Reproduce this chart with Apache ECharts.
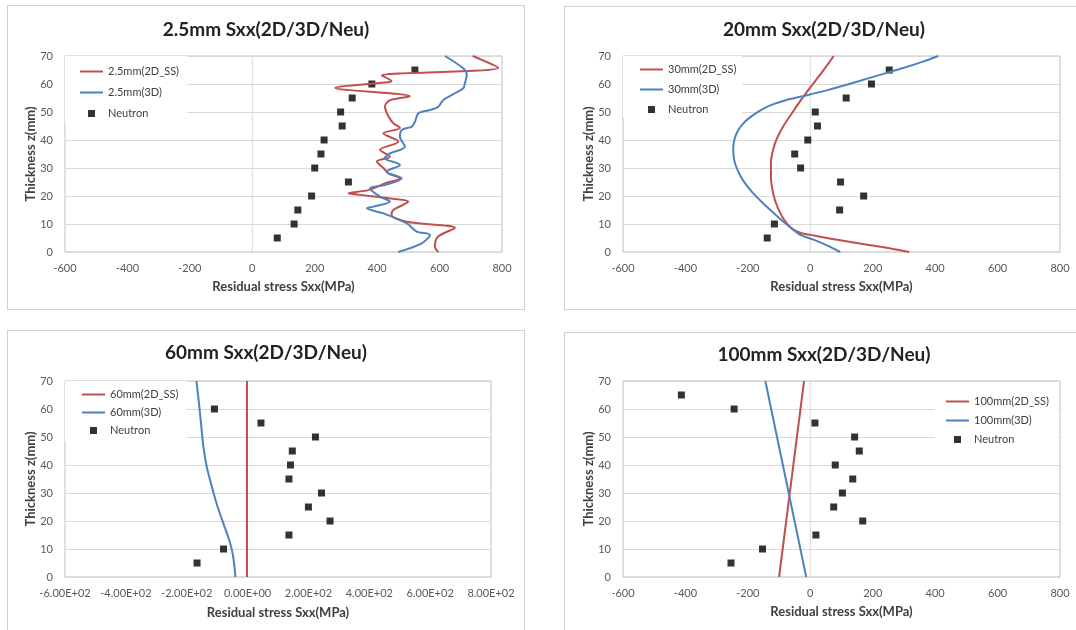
<!DOCTYPE html>
<html>
<head>
<meta charset="utf-8">
<script src="https://cdn.jsdelivr.net/npm/echarts@6/dist/echarts.min.js"></script>
<style>
body { margin: 0; width: 1076px; height: 630px; background: #fff; overflow: hidden; position: relative; }
.panel { position: absolute; box-sizing: border-box; border: 1px solid #d0d0d0; background: #fff; }
</style>
</head>
<body>
<div class="panel" id="p1" style="left:7px;top:5px;width:518px;height:305px"></div>
<div class="panel" id="p2" style="left:564px;top:6px;width:520px;height:304px"></div>
<div class="panel" id="p3" style="left:7px;top:330px;width:518px;height:310px"></div>
<div class="panel" id="p4" style="left:564px;top:332px;width:520px;height:310px"></div>
<script>
// axis ticks
var xTicks = [-600, -400, -200, 0, 200, 400, 600, 800];
var zTicks = [0, 10, 20, 30, 40, 50, 60, 70];

// neutron measurement depths
var depthZ = [65, 60, 55, 50, 45, 40, 35, 30, 25, 20, 15, 10, 5];
var depthZ60 = [60, 55, 50, 45, 40, 35, 30, 25, 20, 15, 10, 5];

// 2.5mm
var neu25 = [521, 383, 320, 283, 288, 230, 220, 200, 308, 190, 146, 134, 80];
var ss25 = [[706,70],[788,65.8],[415,63],[446,61],[425,60.5],[266,58.6],[505,55.6],[441,54.2],[425,52],
  [436,48.5],[452,46],[473,44.3],[420,42.4],[468,39.4],[409,36.5],[441,34],[399,32.3],[420,30],[436,28.1],
  [473,26.3],[425,24.5],[372,22.1],[308,21],[345,20.4],[436,19.2],[500,18],[452,15],[446,13.2],[495,10.8],
  [649,8.6],[596,5.6],[585,2],[596,0]];
var d3_25 = [[617,70],[676,65.6],[687,63.2],[681,60.2],[676,58.5],[649,56.7],[612,54.3],[596,51.9],[569,50.7],
  [532,49.5],[521,46.5],[511,44.8],[479,43.6],[473,41.2],[489,37.6],[441,35.2],[425,33.5],[473,31.1],[430,28.7],
  [479,26.3],[425,23.9],[377,22.7],[409,19.8],[441,18],[388,16.2],[367,15.6],[420,13.8],[495,10.2],[527,7.3],
  [569,6.1],[543,3.1],[468,0]];

// 20mm
var neu20 = [253, 196, 115, 16, 23, -8, -50, -31, 97, 171, 94, -115, -138];
var ss20 = [[75,70],[56,67],[36,64],[12,60.5],[-12,57],[-38,53],[-62,49],[-86,45],[-105,41],[-118,37],
  [-126,32],[-126,27],[-119,21],[-105,16],[-84,11.5],[-58,8.3],[-30,6.8],[15,5.8],[110,3.9],[230,1.8],[317,0]];
var d3_20 = [[410,70],[361,68],[295,65.6],[240,63.8],[185,62],[119,59.8],[58,57.9],[-10,56],[-76,54.3],
  [-118,52.8],[-150,51.2],[-183,48.9],[-208,46.7],[-228,44],[-241,41],[-247,37],[-244,33],[-234,29.5],
  [-215,25.5],[-187,21.5],[-152,17.5],[-118,14],[-86,10.8],[-55,8],[-30,6],[10,4.4],[55,2.3],[96,0]];

// 60mm
var neu60 = [-109, 44, 223, 147, 141, 136, 243, 200, 271, 136, -79, -166];
var ss60 = [[-2,70],[-2,0]];
var d3_60 = [[-168,70],[-162,64.3],[-154,56],[-145,46.4],[-134,39.3],[-117,32.1],[-100,25.6],[-79,19],
  [-60,13.1],[-49,8.3],[-43,3.6],[-40,0]];

// 100mm
var neu100 = [-413, -244, 15, 142, 157, 80, 136, 103, 75, 168, 18, -153, -254];
var ss100 = [[-20,70],[-100,0]];
var d3_100 = [[-144,70],[-13,0]];

var RED = '#c0504d';
var BLUE = '#4f81bd';
var LINE_ICON = 'path://M0,0H23V2H0Z';
var SQUARE_ICON = 'path://M0,0H1V1H0Z';

function sci(v) {
  var s = v.toExponential(2).toUpperCase();
  return s.replace(/E([+-])(\d+)$/, function (m, sg, d) {
    return 'E' + sg + (d.length < 2 ? '0' + d : d);
  });
}

function pairs(xs, zs) {
  return xs.map(function (x, i) { return [x, zs[i]]; });
}

function makePanel(id, p) {
  var chart = echarts.init(document.getElementById(id));
  chart.setOption({
    animation: false,
    textStyle: { fontFamily: 'Lato' },
    title: {
      text: p.title,
      left: 'center',
      top: p.titleTop,
      textStyle: { fontSize: 19, fontWeight: 'bold', color: '#222', fontFamily: 'Lato' }
    },
    grid: {
      left: p.grid[0], top: p.grid[1], width: p.grid[2], height: p.grid[3],
      show: true, borderColor: '#bfbfbf', borderWidth: 1
    },
    legend: {
      orient: 'vertical',
      left: p.legend[0],
      top: p.legend[1],
      padding: p.legend[2],
      itemGap: p.legend[3],
      itemWidth: 23,
      itemHeight: 7,
      symbolKeepAspect: true,
      backgroundColor: '#fff',
      selectedMode: false,
      textStyle: { fontSize: 11, color: '#404040' },
      data: [
        { name: p.names[0], icon: LINE_ICON },
        { name: p.names[1], icon: LINE_ICON },
        { name: 'Neutron', icon: SQUARE_ICON }
      ]
    },
    xAxis: {
      type: 'value',
      min: xTicks[0],
      max: xTicks[xTicks.length - 1],
      interval: xTicks[1] - xTicks[0],
      name: 'Residual stress Sxx(MPa)',
      nameLocation: 'middle',
      nameGap: p.xGap,
      nameMoveOverlap: false,
      nameTextStyle: { fontWeight: 'bold', fontSize: 13, color: '#404040' },
      axisLine: { show: false },
      axisTick: { show: false },
      splitLine: { show: false },
      axisLabel: { fontSize: 11, color: '#595959', margin: 11, formatter: p.fmt }
    },
    yAxis: {
      type: 'value',
      min: zTicks[0],
      max: zTicks[zTicks.length - 1],
      interval: zTicks[1] - zTicks[0],
      name: 'Thickness z(mm)',
      nameLocation: 'middle',
      nameGap: 28,
      nameMoveOverlap: false,
      nameTextStyle: { fontWeight: 'bold', fontSize: 13, color: '#404040' },
      axisLine: { show: false },
      axisTick: { show: false },
      splitLine: { show: true, lineStyle: { color: '#d9d9d9', width: 1 } },
      axisLabel: { fontSize: 11, color: '#595959', margin: 12 }
    },
    series: [
      {
        name: 'axis0', type: 'line', silent: true, symbol: 'none', z: 1,
        data: [[0, zTicks[0]], [0, zTicks[zTicks.length - 1]]],
        lineStyle: { color: '#d9d9d9', width: 1 }
      },
      {
        name: p.names[0], type: 'line', data: p.red, symbol: 'none', smooth: p.smooth,
        lineStyle: { color: RED, width: 2 }, itemStyle: { color: RED }
      },
      {
        name: p.names[1], type: 'line', data: p.blue, symbol: 'none', smooth: p.smooth,
        lineStyle: { color: BLUE, width: 2 }, itemStyle: { color: BLUE }
      },
      {
        name: 'Neutron', type: 'scatter', data: p.neu, symbol: 'rect', symbolSize: 7,
        itemStyle: { color: '#000' }
      }
    ]
  });
}

makePanel('p1', {
  title: '2.5mm Sxx(2D/3D/Neu)', titleTop: 9,
  grid: [57, 50, 437, 196],
  legend: [57, 50, [10, 8, 6, 15], 10],
  names: ['2.5mm(2D_SS)', '2.5mm(3D)'],
  red: ss25, blue: d3_25, neu: pairs(neu25, depthZ),
  smooth: 0.3, xGap: 28
});
makePanel('p2', {
  title: '20mm Sxx(2D/3D/Neu)', titleTop: 8,
  grid: [58, 49, 437, 196],
  legend: [58, 49, [8, 6, 3, 17], 9],
  names: ['30mm(2D_SS)', '30mm(3D)'],
  red: ss20, blue: d3_20, neu: pairs(neu20, depthZ),
  smooth: 0.3, xGap: 28
});
makePanel('p3', {
  title: '60mm Sxx(2D/3D/Neu)', titleTop: 7,
  grid: [57, 50, 426, 196],
  legend: [57, 50, [8, 8, 6, 17], 7],
  names: ['60mm(2D_SS)', '60mm(3D)'],
  red: ss60, blue: d3_60, neu: pairs(neu60, depthZ60),
  smooth: 0.4, xGap: 29, fmt: sci
});
makePanel('p4', {
  title: '100mm Sxx(2D/3D/Neu)', titleTop: 7,
  grid: [58, 48, 437, 196],
  legend: [370, 57, [6, 9, 6, 11], 8],
  names: ['100mm(2D_SS)', '100mm(3D)'],
  red: ss100, blue: d3_100, neu: pairs(neu100, depthZ),
  smooth: false, xGap: 28
});
</script>
</body>
</html>
